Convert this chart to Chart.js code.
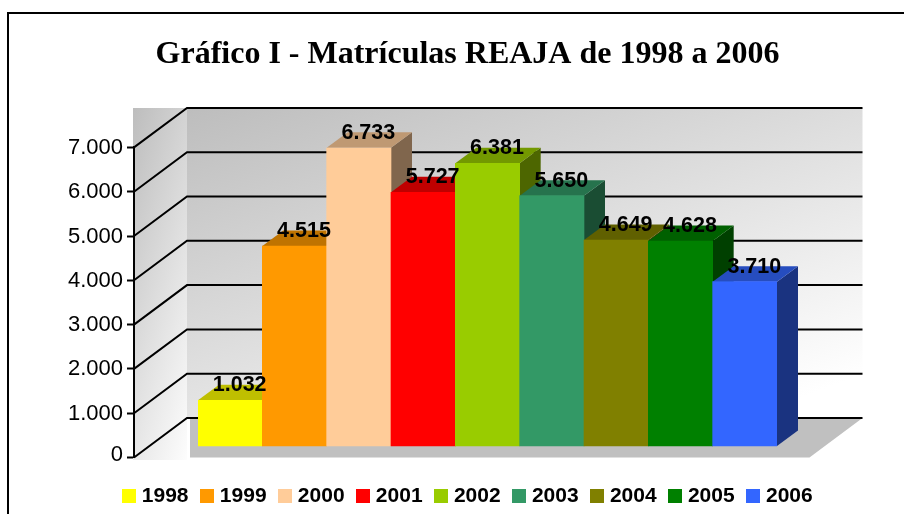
<!DOCTYPE html>
<html><head><meta charset="utf-8">
<style>html,body{margin:0;padding:0;background:#fff}#wrap{position:relative;width:904px;height:514px}canvas{display:block}</style>
<script src="https://cdn.jsdelivr.net/npm/chart.js@4"></script></head>
<body><div id="wrap"><canvas id="c" width="904" height="514"></canvas></div>
<script>
const years = ['1998','1999','2000','2001','2002','2003','2004','2005','2006'];
const matriculas = [1032,4515,6733,5727,6381,5650,4649,4628,3710];
const axisTicks = [0,1000,2000,3000,4000,5000,6000,7000];
const barColors = ['#ffff00','#ff9900','#ffcc99','#ff0000','#99cc00','#339966','#808000','#008000','#3366ff'];
const titleText = 'Gráfico I - Matrículas REAJA de 1998 a 2006';

const fmt = v => String(v).replace(/\B(?=(\d{3})+$)/g,'.');
function shade(hex,f){
  const n=parseInt(hex.slice(1),16);
  return 'rgb('+[(n>>16)&255,(n>>8)&255,n&255].map(c=>Math.round(c*f)).join(',')+')';
}
function swatch(col){
  const s=document.createElement('canvas');s.width=14;s.height=14;
  const g=s.getContext('2d');g.fillStyle=col;g.fillRect(0,0,14,14);return s;
}
const DX=21,DY=15.5;      // bar depth
const WX=53,WY=39.5;      // wall depth
const AXIS_SHIFT=64;

const scene={
  id:'scene',
  afterLayout(chart){
    const f=chart.scales.front,lg=chart.legend;
    f.left-=AXIS_SHIFT;f.right-=AXIS_SHIFT;
    lg.top+=12;lg.bottom+=12;lg.left+=2;lg.right+=2;
    const orig=f._computeLabelItems;
    f._computeLabelItems=function(a){
      const items=orig.call(this,a);
      items.forEach(it=>{it.options.translation[1]+=(it.label==='0'?-3:0.5);});
      return items;
    };
  },
  beforeDraw(chart){
    const c=chart.ctx,f=chart.scales.front;
    const wx0=f.right,wx1=f.right+WX,top=108,wallRight=862.5;
    const y0=f.getPixelForValue(0);
    c.save();
    // frame
    c.strokeStyle='#000';c.lineWidth=2;
    c.beginPath();c.moveTo(8,514);c.lineTo(8,13);c.lineTo(904,13);c.stroke();
    // side wall
    let g=c.createLinearGradient(wx0-1,top,wx0+150,top+45);
    g.addColorStop(0,'#bdbdbd');g.addColorStop(1,'#ffffff');
    c.fillStyle=g;c.fillRect(wx0-1,top,WX+1,352);
    // back wall
    g=c.createLinearGradient(wx1,top,wx1+167,top+454);
    g.addColorStop(0,'#bdbdbd');g.addColorStop(1,'#ffffff');
    c.fillStyle=g;c.fillRect(wx1,top,wallRight-wx1,y0-WY-top);
    // floor
    c.fillStyle='#c0c0c0';
    c.beginPath();c.moveTo(wx1+3,y0-WY);c.lineTo(wallRight,y0-WY);c.lineTo(wallRight-WX,y0);c.lineTo(wx1+3,y0);c.closePath();c.fill();
    // grid lines through the front axis scale
    c.strokeStyle='#000';c.lineWidth=2;
    axisTicks.forEach(v=>{
      const y=f.getPixelForValue(v);
      c.beginPath();c.moveTo(wx0,y);c.lineTo(wx1,y-WY);c.lineTo(wallRight,y-WY);c.stroke();
    });
    c.restore();
  },
  beforeDatasetsDraw(chart){
    const c=chart.ctx,bars=chart.getDatasetMeta(0).data;
    c.save();
    bars.forEach((b,i)=>{
      const l=b.x-b.width/2,r=b.x+b.width/2,t=b.y,bt=b.base;
      c.fillStyle=shade(barColors[i],0.5);
      c.beginPath();c.moveTo(r,t);c.lineTo(r+DX,t-DY);c.lineTo(r+DX,bt-DY);c.lineTo(r,bt);c.closePath();c.fill();
      c.fillStyle=shade(barColors[i],0.75);
      c.beginPath();c.moveTo(l,t);c.lineTo(l+DX,t-DY);c.lineTo(r+DX,t-DY);c.lineTo(r,t);c.closePath();c.fill();
    });
    c.restore();
  },
  afterDatasetsDraw(chart){
    const c=chart.ctx,bars=chart.getDatasetMeta(0).data;
    c.save();
    c.font='bold 21.5px "Liberation Sans"';c.fillStyle='#000';c.textAlign='center';c.textBaseline='middle';
    bars.forEach((b,i)=>c.fillText(fmt(matriculas[i]),b.x+DX/2-1,b.y-DY+0.5));
    c.restore();
  }
};

new Chart(document.getElementById('c'),{
  type:'bar',
  data:{labels:years,datasets:[{label:'Matrículas',data:matriculas,backgroundColor:barColors,barPercentage:1,categoryPercentage:1,yAxisID:'y',borderWidth:0}]},
  plugins:[scene],
  options:{
    responsive:false,animation:false,
    layout:{padding:{left:41,right:10,top:0,bottom:9.7}},
    plugins:{
      tooltip:{enabled:false},
      title:{display:true,text:titleText,color:'#000',font:{family:'"Liberation Serif"',size:32,weight:'bold',lineHeight:1.2},padding:{top:36,bottom:73}},
      legend:{position:'bottom',labels:{
        color:'#000',font:{family:'"Liberation Sans"',size:21,weight:'bold'},
        usePointStyle:true,pointStyleWidth:5,padding:15.8,
        generateLabels:()=>years.map((y,i)=>({text:y,pointStyle:swatch(barColors[i]),fillStyle:barColors[i],strokeStyle:barColors[i],lineWidth:0,hidden:false,index:i,fontColor:'#000'}))
      }}
    },
    scales:{
      x:{display:false},
      y:{position:'right',min:-260,max:6740,ticks:{display:false},grid:{display:false},border:{display:false},afterFit(s){s.width=117;}},
      front:{position:'left',min:0,max:7000,
        ticks:{stepSize:1000,color:'#000',padding:4,font:{family:'"Liberation Sans"',size:22},callback:v=>fmt(v)},
        grid:{drawOnChartArea:false,drawTicks:true,tickLength:7,tickColor:'#000',tickWidth:2},
        border:{display:true,color:'#000',width:2},
        afterFit(s){s.width=157;}}
    }
  }
});
</script></body></html>
